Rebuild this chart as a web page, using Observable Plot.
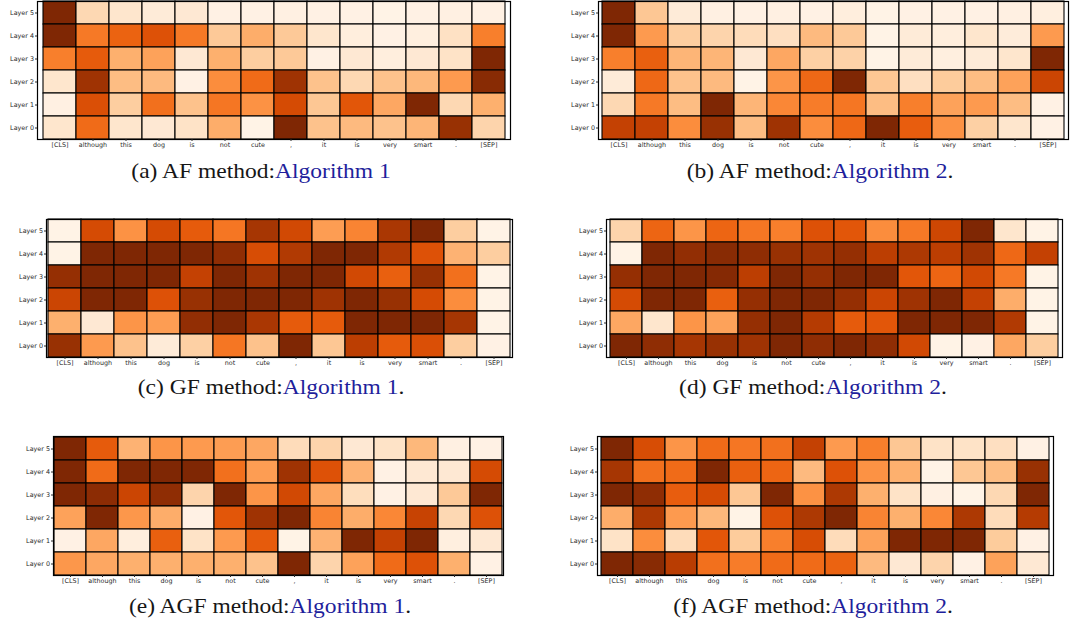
<!DOCTYPE html>
<html>
<head>
<meta charset="utf-8">
<script src="https://cdn.jsdelivr.net/npm/d3@7"></script>
<script src="https://cdn.jsdelivr.net/npm/@observablehq/plot@0.6"></script>
<style>
  body { margin: 0; background: #fff; }
  #fig { position: relative; width: 1070px; height: 626px; overflow: hidden; background: #fff; }
  .cap {
    position: absolute;
    font-family: "Liberation Serif", "Times New Roman", serif;
    font-size: 21px;
    line-height: 21px;
    color: #161616;
    white-space: nowrap;
  }
  .cap .ref { color: #1f1f9c; }
</style>
</head>
<body>
<div id="fig"></div>
<script>
// Input tokens (columns) and encoder layers (rows, top to bottom)
const tokens = ["[CLS]", "although", "this", "dog", "is", "not", "cute", ",", "it", "is", "very", "smart", ".", "[SEP]"];
const layers = ["Layer 5", "Layer 4", "Layer 3", "Layer 2", "Layer 1", "Layer 0"];

// Normalised attribution scores, one row per layer (Layer 5 first)
const afAlg1 = [
  [1.00, 0.20, 0.12, 0.08, 0.10, 0.03, 0.03, 0.04, 0.03, 0.03, 0.02, 0.03, 0.04, 0.03],
  [1.00, 0.57, 0.65, 0.72, 0.57, 0.27, 0.38, 0.27, 0.12, 0.06, 0.03, 0.05, 0.15, 0.55],
  [0.55, 0.68, 0.37, 0.42, 0.10, 0.37, 0.25, 0.27, 0.03, 0.10, 0.06, 0.10, 0.14, 1.00],
  [0.12, 0.90, 0.32, 0.33, 0.03, 0.50, 0.62, 0.90, 0.30, 0.20, 0.30, 0.34, 0.45, 0.97],
  [0.04, 0.73, 0.25, 0.60, 0.30, 0.58, 0.48, 0.75, 0.28, 0.70, 0.40, 1.00, 0.20, 0.37],
  [0.12, 0.62, 0.12, 0.10, 0.14, 0.38, 0.02, 1.00, 0.30, 0.33, 0.30, 0.35, 0.92, 0.22]
];
const afAlg2 = [
  [1.00, 0.28, 0.08, 0.04, 0.03, 0.04, 0.03, 0.06, 0.02, 0.03, 0.03, 0.03, 0.04, 0.05],
  [1.00, 0.45, 0.25, 0.22, 0.18, 0.16, 0.33, 0.27, 0.02, 0.08, 0.06, 0.12, 0.07, 0.45],
  [0.55, 0.66, 0.35, 0.35, 0.10, 0.40, 0.24, 0.23, 0.02, 0.08, 0.05, 0.08, 0.12, 1.00],
  [0.08, 0.63, 0.30, 0.33, 0.02, 0.47, 0.63, 1.00, 0.28, 0.16, 0.26, 0.32, 0.42, 0.78],
  [0.20, 0.57, 0.32, 1.00, 0.35, 0.52, 0.56, 0.58, 0.32, 0.55, 0.42, 0.45, 0.32, 0.03],
  [0.80, 0.80, 0.50, 0.92, 0.32, 0.90, 0.50, 0.63, 1.00, 0.67, 0.48, 0.24, 0.12, 0.03]
];
const gfAlg1 = [
  [0.02, 0.75, 0.48, 0.75, 0.68, 0.58, 0.88, 0.76, 0.44, 0.53, 0.87, 1.00, 0.25, 0.02],
  [0.02, 1.00, 1.00, 1.00, 1.00, 0.95, 0.74, 0.85, 1.00, 1.00, 0.85, 0.72, 0.36, 0.25],
  [0.93, 1.00, 1.00, 1.00, 0.80, 1.00, 0.90, 1.00, 1.00, 0.76, 0.66, 0.92, 0.60, 0.02],
  [0.78, 1.00, 1.00, 0.72, 0.92, 1.00, 1.00, 1.00, 0.90, 1.00, 0.92, 0.75, 0.50, 0.02],
  [0.37, 0.10, 0.47, 0.44, 0.94, 1.00, 0.87, 0.68, 0.68, 1.00, 1.00, 1.00, 0.88, 0.02],
  [0.92, 0.45, 0.30, 0.08, 0.24, 0.58, 0.30, 1.00, 0.28, 0.82, 0.68, 0.73, 0.25, 0.03]
];
const gfAlg2 = [
  [0.22, 0.64, 0.47, 0.64, 0.58, 0.55, 0.72, 0.70, 0.50, 0.57, 0.77, 1.00, 0.12, 0.02],
  [0.02, 1.00, 0.94, 0.97, 0.95, 0.92, 0.90, 0.93, 0.82, 0.86, 0.82, 0.90, 0.63, 0.80],
  [0.93, 1.00, 1.00, 0.98, 0.82, 1.00, 0.93, 1.00, 1.00, 0.70, 0.64, 0.76, 0.57, 0.02],
  [0.75, 1.00, 1.00, 0.66, 0.93, 1.00, 1.00, 0.93, 0.78, 0.90, 1.00, 0.80, 0.38, 0.02],
  [0.40, 0.12, 0.47, 0.42, 0.93, 1.00, 0.84, 0.68, 0.70, 1.00, 1.00, 1.00, 0.85, 0.02],
  [1.00, 0.95, 0.88, 0.92, 0.90, 1.00, 0.95, 1.00, 0.95, 0.76, 0.02, 0.03, 0.40, 0.25]
];
const agfAlg1 = [
  [1.00, 0.68, 0.36, 0.47, 0.45, 0.44, 0.40, 0.18, 0.22, 0.10, 0.14, 0.34, 0.04, 0.03],
  [1.00, 0.62, 1.00, 1.00, 1.00, 0.60, 0.44, 0.90, 0.72, 0.36, 0.03, 0.10, 0.10, 0.75],
  [1.00, 0.96, 0.78, 0.95, 0.22, 1.00, 0.47, 0.76, 0.40, 0.17, 0.03, 0.10, 0.27, 1.00],
  [0.42, 1.00, 0.46, 0.38, 0.03, 0.70, 0.90, 1.00, 0.53, 0.38, 0.52, 0.79, 0.20, 0.72],
  [0.03, 0.40, 0.06, 0.66, 0.14, 0.45, 0.68, 0.02, 0.36, 1.00, 0.80, 1.00, 0.05, 0.10],
  [0.46, 0.40, 0.37, 0.37, 0.37, 0.37, 0.30, 1.00, 0.22, 0.42, 0.62, 0.72, 0.37, 0.03]
];
const agfAlg2 = [
  [1.00, 0.74, 0.47, 0.62, 0.58, 0.60, 0.80, 0.45, 0.55, 0.28, 0.14, 0.14, 0.16, 0.03],
  [0.88, 0.60, 0.62, 1.00, 0.66, 0.64, 0.33, 0.72, 0.48, 0.37, 0.02, 0.28, 0.32, 0.92],
  [1.00, 0.95, 0.67, 0.75, 0.28, 1.00, 0.48, 0.86, 0.37, 0.14, 0.04, 0.02, 0.20, 1.00],
  [0.38, 0.86, 0.45, 0.34, 0.02, 0.72, 0.86, 1.00, 0.53, 0.37, 0.52, 0.86, 0.18, 0.84],
  [0.14, 0.50, 0.18, 0.70, 0.26, 0.55, 0.74, 0.18, 0.42, 1.00, 1.00, 1.00, 0.26, 0.03],
  [1.00, 0.97, 0.83, 0.60, 0.56, 0.62, 0.62, 0.65, 0.33, 0.10, 0.22, 0.03, 0.42, 0.10]
];

// Sub-figure captions: label, method, algorithm reference, trailing text
const captions = [
  ["(a) AF method:", "Algorithm 1", ""],
  ["(b) AF method:", "Algorithm 2", "."],
  ["(c) GF method:", "Algorithm 1", "."],
  ["(d) GF method:", "Algorithm 2", "."],
  ["(e) AGF method:", "Algorithm 1", "."],
  ["(f) AGF method:", "Algorithm 2", "."]
];

const fig = document.getElementById("fig");

// Panel layout on the page: heatmap frame box and caption anchor
const panels = [
  {grid: afAlg1,  box: [37, 1, 510, 139],     cap: [261, 179]},
  {grid: afAlg2,  box: [598, 1, 1068, 139],   cap: [820, 179]},
  {grid: gfAlg1,  box: [46, 219, 512, 357],   cap: [271, 395]},
  {grid: gfAlg2,  box: [606, 219, 1062, 357], cap: [813, 395]},
  {grid: agfAlg1, box: [53, 436, 503, 575],   cap: [270, 614]},
  {grid: agfAlg2, box: [597, 436, 1053, 575], cap: [813, 614]}
];

function heatmap(grid, [x0, y0, x1, y1]) {
  const cells = grid.flatMap((row, i) => row.map((v, j) => ({layer: layers[i], col: j, value: v})));
  const ml = 45, mr = 4, mt = 4, mb = 14;
  const svg = Plot.plot({
    width: x1 - x0 + ml + mr,
    height: y1 - y0 + mt + mb,
    marginLeft: ml, marginRight: mr, marginTop: mt, marginBottom: mb,
    style: {fontFamily: "DejaVu Sans", fontSize: "6.4px", color: "#2a2a2a", background: "transparent", overflow: "visible"},
    x: {type: "band", domain: d3.range(tokens.length), padding: 0, label: null, axis: null},
    y: {type: "band", domain: layers, padding: 0, label: null, axis: null},
    color: {type: "linear", scheme: "oranges", domain: [0, 1]},
    marks: [
      Plot.cell(cells, {x: "col", y: "layer", fill: "value", stroke: "black", strokeWidth: 1.1}),
      Plot.frame({stroke: "black", strokeWidth: 1.2}),
      Plot.axisX({tickFormat: i => tokens[i], tickSize: 2, tickPadding: 1, fill: "#2a2a2a", stroke: "#2a2a2a", label: null}),
      Plot.axisY({tickSize: 2, tickPadding: 1.5, fill: "#2a2a2a", stroke: "#2a2a2a", label: null})
    ]
  });
  svg.style.position = "absolute";
  svg.style.left = (x0 - ml) + "px";
  svg.style.top = (y0 - mt) + "px";
  fig.appendChild(svg);
}

function caption([lead, ref, tail], [cx, baseline]) {
  const div = document.createElement("div");
  div.className = "cap";
  div.append(lead);
  const span = document.createElement("span");
  span.className = "ref";
  span.textContent = ref;
  div.append(span, tail);
  div.style.left = cx + "px";
  div.style.top = (baseline - 17.6) + "px";
  div.style.transform = "translateX(-50%) scaleX(1.12)";
  fig.appendChild(div);
}

panels.forEach((p, i) => {
  heatmap(p.grid, p.box);
  caption(captions[i], p.cap);
});
</script>
</body>
</html>
